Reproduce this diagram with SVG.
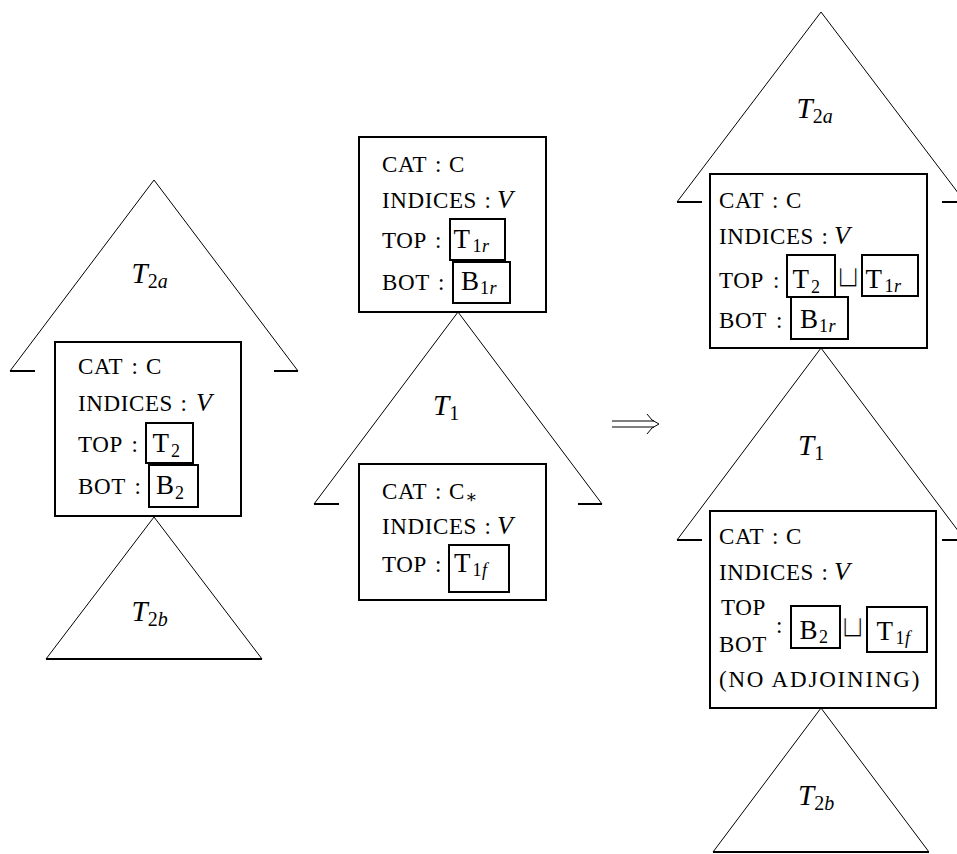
<svg xmlns="http://www.w3.org/2000/svg" width="957" height="854" viewBox="0 0 957 854">
<style>
.tri{fill:none;stroke:#000;stroke-width:1}
.base{fill:none;stroke:#000;stroke-width:2}
.box{fill:#fff;stroke:#000;stroke-width:2}
.ib{fill:none;stroke:#000;stroke-width:2}
text{font-family:"Liberation Serif","DejaVu Serif",serif;fill:#000}
.sc{font-size:23px;letter-spacing:0.6px}
.co{font-size:23px}
.v{font-size:26px;font-style:italic}
.rm{font-size:27px}
.sb{font-size:18px}
.si{font-size:18px;font-style:italic}
.lab{font-size:29px;font-style:italic}
.ls{font-size:20px;font-style:normal}
.lsi{font-size:20px;font-style:italic}
.cup{font-family:"DejaVu Sans",sans-serif;font-size:31px;stroke:#fff;stroke-width:1.2px}
</style>
<rect width="957" height="854" fill="#fff"/>

<!-- LEFT TREE -->
<g id="left-T2a">
  <path class="tri" d="M10,371 L154,180 L298,371"/>
  <path class="base" d="M10,371 H35 M274,371 H298"/>
  <text class="lab" x="131.5" y="283">T<tspan class="ls" dy="5">2</tspan><tspan class="lsi">a</tspan></text>
</g>
<g id="left-node">
  <rect class="box" x="55" y="342" width="186" height="174"/>
  <text class="sc" x="78" y="374">CAT</text><text class="co" x="131.5" y="374">:</text><text class="sc" x="146" y="374">C</text>
  <text class="sc" x="78" y="411">INDICES</text><text class="co" x="180.5" y="411">:</text><text class="v" x="196" y="411">V</text>
  <text class="sc" x="78" y="452">TOP</text><text class="co" x="131.5" y="452">:</text>
  <rect class="ib" x="146" y="423" width="47" height="40"/>
  <text class="rm" x="152.5" y="452">T</text><text class="sb" x="171" y="457">2</text>
  <text class="sc" x="78" y="494">BOT</text><text class="co" x="134.5" y="494">:</text>
  <rect class="ib" x="149" y="465" width="49" height="42"/>
  <text class="rm" x="156" y="494">B</text><text class="sb" x="175" y="499">2</text>
</g>
<g id="left-T2b">
  <path class="tri" d="M46,659 L154,517 L262,659"/>
  <path class="base" d="M46,659 H262"/>
  <text class="lab" x="131.5" y="621">T<tspan class="ls" dy="5">2</tspan><tspan class="lsi">b</tspan></text>
</g>

<!-- MIDDLE TREE -->
<g id="mid-root-node">
  <rect class="box" x="359" y="137" width="187" height="175"/>
  <text class="sc" x="382" y="172">CAT</text><text class="co" x="435" y="172">:</text><text class="sc" x="449" y="172">C</text>
  <text class="sc" x="382" y="208">INDICES</text><text class="co" x="484.5" y="208">:</text><text class="v" x="497" y="208">V</text>
  <text class="sc" x="382" y="248">TOP</text><text class="co" x="435" y="248">:</text>
  <rect class="ib" x="450" y="219" width="55" height="41"/>
  <text class="rm" x="453.5" y="248">T</text><text class="sb" x="472.5" y="252">1</text><text class="si" x="482" y="252">r</text>
  <text class="sc" x="382" y="290">BOT</text><text class="co" x="438" y="290">:</text>
  <rect class="ib" x="453" y="262" width="57" height="41"/>
  <text class="rm" x="461" y="290">B</text><text class="sb" x="480" y="294">1</text><text class="si" x="489.5" y="294">r</text>
</g>
<g id="mid-T1">
  <path class="tri" d="M314,504 L458,312 L602,504"/>
  <path class="base" d="M314,504 H339 M578,504 H602"/>
  <text class="lab" x="433" y="415">T<tspan class="ls" dy="5">1</tspan></text>
</g>
<g id="mid-foot-node">
  <rect class="box" x="359" y="464" width="187" height="136"/>
  <text class="sc" x="382" y="498.5">CAT</text><text class="co" x="435" y="498.5">:</text><text class="sc" x="449" y="498.5">C</text><text class="sb" x="465" y="503">∗</text>
  <text class="sc" x="382" y="533.5">INDICES</text><text class="co" x="484.5" y="533.5">:</text><text class="v" x="497" y="533.5">V</text>
  <text class="sc" x="382" y="572">TOP</text><text class="co" x="435" y="572">:</text>
  <rect class="ib" x="449" y="545" width="60" height="47"/>
  <text class="rm" x="454" y="572">T</text><text class="sb" x="472.5" y="576">1</text><text class="si" x="482" y="576">f</text>
</g>

<!-- CONNECTORS -->
<g id="connectors">
  <path class="tri" stroke-width="1.3" d="M612,421 H654 M612,427 H654 M647,414 Q651,421 659,424 Q651,427 647,434"/>
</g>

<!-- RIGHT TREE -->
<g id="right-T2a">
  <path class="tri" d="M677,202 L821,12 L965,202"/>
  <path class="base" d="M677,202 H702 M942,202 H957"/>
  <text class="lab" x="796.5" y="118">T<tspan class="ls" dy="5">2</tspan><tspan class="lsi">a</tspan></text>
</g>
<g id="right-merged-root">
  <rect class="box" x="710" y="174" width="217" height="174"/>
  <text class="sc" x="719" y="208">CAT</text><text class="co" x="772" y="208">:</text><text class="sc" x="786" y="208">C</text>
  <text class="sc" x="719" y="243.5">INDICES</text><text class="co" x="821.5" y="243.5">:</text><text class="v" x="834" y="243.5">V</text>
  <text class="sc" x="719" y="288">TOP</text><text class="co" x="773" y="288">:</text>
  <rect class="ib" x="787" y="255" width="48" height="42"/>
  <text class="rm" x="792.5" y="288">T</text><text class="sb" x="811" y="293">2</text>
  <text class="cup" x="836" y="287">⊔</text>
  <rect class="ib" x="862" y="255" width="56" height="41"/>
  <text class="rm" x="865.5" y="288">T</text><text class="sb" x="884.5" y="292">1</text><text class="si" x="894" y="292">r</text>
  <text class="sc" x="719" y="328">BOT</text><text class="co" x="776" y="328">:</text>
  <rect class="ib" x="791" y="297" width="57" height="42"/>
  <text class="rm" x="800" y="328">B</text><text class="sb" x="819" y="332">1</text><text class="si" x="828.5" y="332">r</text>
</g>
<g id="right-T1">
  <path class="tri" d="M677,540 L821,348 L965,540"/>
  <path class="base" d="M677,540 H702 M942,540 H957"/>
  <text class="lab" x="798" y="455">T<tspan class="ls" dy="5">1</tspan></text>
</g>
<g id="right-merged-foot">
  <rect class="box" x="710" y="511" width="226" height="197"/>
  <text class="sc" x="719" y="543.5">CAT</text><text class="co" x="772" y="543.5">:</text><text class="sc" x="786" y="543.5">C</text>
  <text class="sc" x="719" y="580">INDICES</text><text class="co" x="821.5" y="580">:</text><text class="v" x="834" y="580">V</text>
  <text class="sc" x="721" y="615">TOP</text>
  <text class="sc" x="719" y="652">BOT</text>
  <text class="co" x="776" y="633">:</text>
  <rect class="ib" x="791" y="606" width="49" height="42"/>
  <text class="rm" x="799.5" y="638.5">B</text><text class="sb" x="819" y="643">2</text>
  <text class="cup" x="840.5" y="636.5">⊔</text>
  <rect class="ib" x="867" y="607" width="60" height="45"/>
  <text class="rm" x="876.5" y="640">T</text><text class="sb" x="895.5" y="644">1</text><text class="si" x="905" y="644">f</text>
  <text class="sc" x="719" y="687" textLength="201" lengthAdjust="spacing">(NO ADJOINING)</text>
</g>
<g id="right-T2b">
  <path class="tri" d="M713,852 L821,708 L929,852"/>
  <path class="base" d="M713,852 H929"/>
  <text class="lab" x="798" y="805">T<tspan class="ls" dy="5">2</tspan><tspan class="lsi">b</tspan></text>
</g>
</svg>
